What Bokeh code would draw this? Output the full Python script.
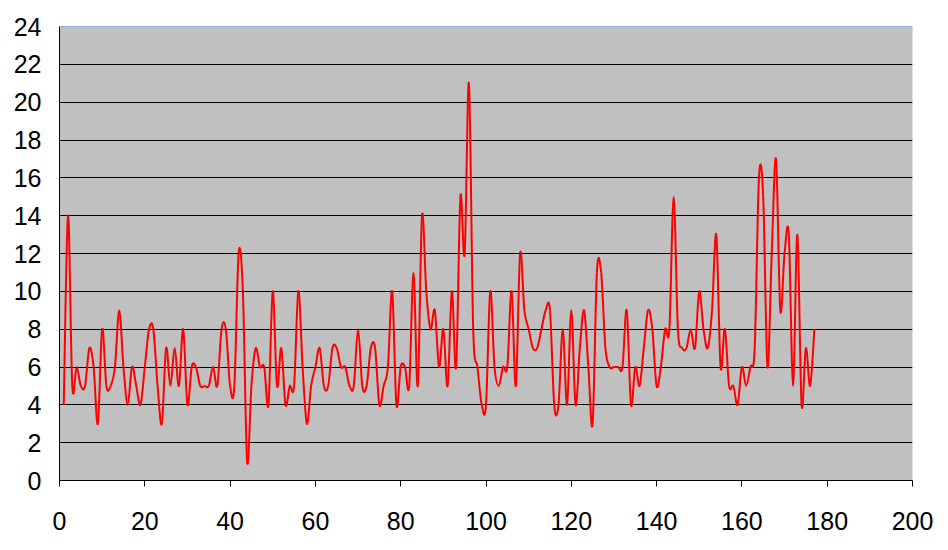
from bokeh.plotting import figure
from bokeh.models import Span, FixedTicker, ColumnDataSource, Range1d
from bokeh.embed import file_html
from bokeh.resources import INLINE

# data
x_vals = list(range(1, 178))
y_vals = [4, 14, 5, 6, 5, 5, 7, 6, 3, 8,
          5, 5, 6, 9, 6, 4, 6, 5, 4, 6,
          8, 8, 5, 3, 7, 5, 7, 5, 8, 4,
          6, 6, 5, 5, 5, 6, 5, 8, 8, 5,
          5, 12, 10, 1, 5, 7, 6, 6, 4, 10,
          5, 7, 4, 5, 5, 10, 6, 3, 5, 6,
          7, 5, 5, 7, 7, 6, 6, 5, 5, 8,
          5, 5, 7, 7, 4, 5, 6, 10, 4, 6,
          6, 5, 11, 5, 14, 10, 8, 9, 6, 8,
          5, 10, 6, 15, 12, 21, 8, 6, 4, 4,
          10, 6, 5, 6, 6, 10, 5, 12, 9, 8,
          7, 7, 8, 9, 9, 4, 4, 8, 4, 9,
          4, 7, 9, 6, 3, 11, 11, 7, 6, 6,
          6, 6, 9, 4, 6, 5, 7, 9, 8, 5,
          6, 8, 8, 15, 8, 7, 7, 8, 7, 10,
          8, 7, 9, 13, 6, 8, 5, 5, 4, 6,
          5, 6, 7, 16, 15, 6, 12, 17, 9, 12,
          13, 5, 13, 4, 7, 5, 8]
x_ticks = list(range(0, 201, 20))
y_ticks = list(range(0, 25, 2))

# smoothed-line rendering (Bezier segments through each data point)
n = len(x_vals)
def pt(i):
    i = max(0, min(n - 1, i))
    return x_vals[i], y_vals[i]

x0s, y0s, x1s, y1s, cx0s, cy0s, cx1s, cy1s = [], [], [], [], [], [], [], []
for i in range(n - 1):
    pxm, pym = pt(i - 1)
    px0, py0 = pt(i)
    px1, py1 = pt(i + 1)
    px2, py2 = pt(i + 2)
    x0s.append(px0); y0s.append(py0)
    x1s.append(px1); y1s.append(py1)
    cx0s.append(px0 + (px1 - pxm) / 6.0); cy0s.append(py0 + (py1 - pym) / 6.0)
    cx1s.append(px1 - (px2 - px0) / 6.0); cy1s.append(py1 - (py2 - py0) / 6.0)

src = ColumnDataSource(dict(x0=x0s, y0=y0s, x1=x1s, y1=y1s,
                            cx0=cx0s, cy0=cy0s, cx1=cx1s, cy1=cy1s))

p = figure(width=948, height=550, output_backend="svg", toolbar_location=None,
           x_range=Range1d(0, 200), y_range=Range1d(0, 24),
           min_border_left=59, min_border_right=36, min_border_top=26,
           min_border_bottom=70)
p.background_fill_color = "#C0C0C0"
p.border_fill_color = "white"
p.outline_line_color = None

p.bezier(x0="x0", y0="y0", x1="x1", y1="y1", cx0="cx0", cy0="cy0",
         cx1="cx1", cy1="cy1", source=src, line_color="#FF0000", line_width=2)

p.add_layout(Span(location=24, dimension="width", line_color="#3A8EE6", line_width=1))

p.xgrid.visible = False
p.ygrid.grid_line_color = "black"
p.ygrid.grid_line_alpha = 1.0
p.ygrid.grid_line_width = 1

p.xaxis.ticker = FixedTicker(ticks=x_ticks)
p.yaxis.ticker = FixedTicker(ticks=y_ticks)
for ax in (p.xaxis, p.yaxis):
    ax.axis_line_color = "black"
    ax.axis_line_width = 1
    ax.minor_tick_line_color = None
    ax.major_label_text_font = "Liberation Sans"
    ax.major_label_text_font_size = "25px"
    ax.major_label_text_color = "black"
p.xaxis.major_tick_line_color = "black"
p.xaxis.major_tick_out = 6
p.xaxis.major_tick_in = 0
p.xaxis.major_label_standoff = 25
p.yaxis.major_tick_line_color = None
p.yaxis.major_tick_out = 0
p.yaxis.major_tick_in = 0
p.yaxis.major_label_standoff = 18

open("out.html", "w").write(file_html(p, INLINE))
